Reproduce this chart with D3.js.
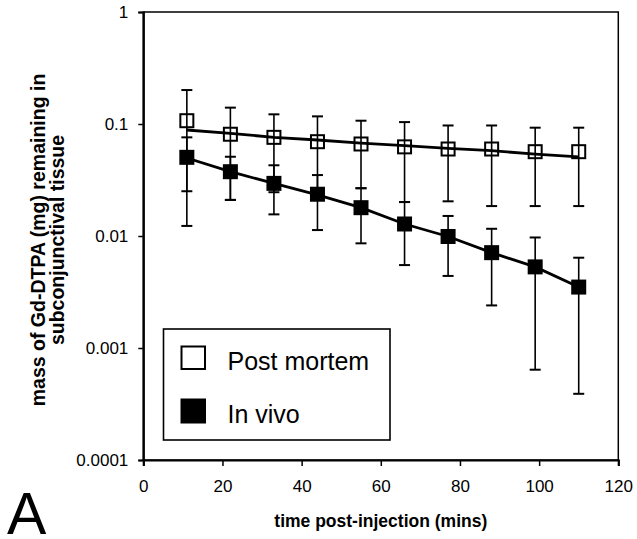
<!DOCTYPE html>
<html>
<head>
<meta charset="utf-8">
<script src="https://cdn.jsdelivr.net/npm/d3@7"></script>
<style>
  body { margin: 0; background: #fff; }
  text { font-family: Arial, "Liberation Sans", sans-serif; fill: #000; }
</style>
</head>
<body>
<div id="chart"></div>
<script>
// time points (mins)
const times = [11, 22, 33, 44, 55, 66, 77, 88, 99, 110];

// post mortem
const pmMean  = [0.107, 0.081, 0.076, 0.0695, 0.0663, 0.0625, 0.0598, 0.0598, 0.0566, 0.0566];
const pmUpper = [0.201, 0.14, 0.122, 0.117, 0.107, 0.104, 0.097, 0.097, 0.0927, 0.0927];
const pmLower = [0.0123, 0.021, 0.0246, 0.022, 0.0267, 0.0201, 0.0204, 0.0185, 0.0185, 0.0185];
const pmTrend = [0.0884, 0.0826, 0.076, 0.072, 0.0675, 0.064, 0.0607, 0.0578, 0.0538, 0.0509];

// in vivo
const ivMean  = [0.0504, 0.0375, 0.0295, 0.0236, 0.0179, 0.0128, 0.0099, 0.0071, 0.0053, 0.0035];
const ivUpper = [0.076, 0.051, 0.0428, 0.035, 0.0267, 0.0201, 0.0151, 0.0116, 0.0097, 0.0064];
const ivLower = [0.0251, 0.021, 0.0156, 0.0113, 0.0086, 0.0055, 0.0044, 0.0024, 0.00064, 0.00039];
const ivTrend = [0.0497, 0.0375, 0.0295, 0.0233, 0.0179, 0.0128, 0.0099, 0.0071, 0.0053, 0.0035];

const xTicks = [0, 20, 40, 60, 80, 100, 120];
const yTicks = [1, 0.1, 0.01, 0.001, 0.0001];
const yTickLabels = ["1", "0.1", "0.01", "0.001", "0.0001"];

const width = 637, height = 539;
const margin = { left: 143.3, right: 18.7, top: 12, bottom: 79 };

const svg = d3.select("#chart").append("svg")
    .attr("width", width)
    .attr("height", height);

const x = d3.scaleLinear().domain([0, 120]).range([margin.left, width - margin.right]);
const y = d3.scaleLog().domain([0.0001, 1]).range([height - margin.bottom, margin.top]);

// plot frame (top/right)
svg.append("rect")
    .attr("x", x(0)).attr("y", y(1))
    .attr("width", x(120) - x(0)).attr("height", y(0.0001) - y(1))
    .attr("fill", "none").attr("stroke", "#000").attr("stroke-width", 1.5);

// axes
const xAxis = svg.append("g")
    .attr("transform", `translate(0,${y(0.0001)})`)
    .call(d3.axisBottom(x).tickValues(xTicks).tickSize(6).tickPadding(10));
const yAxis = svg.append("g")
    .attr("transform", `translate(${x(0)},0)`)
    .call(d3.axisLeft(y).tickValues(yTicks).tickFormat((d, i) => yTickLabels[i]).tickSize(5).tickPadding(10));

[xAxis, yAxis].forEach(g => {
    g.select(".domain").attr("stroke-width", 2.2);
    g.selectAll(".tick line").attr("stroke-width", 1.5);
    g.selectAll(".tick text").style("font-size", "17px").attr("font-family", null);
});
xAxis.selectAll(".tick text").attr("dy", "0.95em");

// error bars
function errorBars(lower, upper) {
    const g = svg.append("g").attr("stroke", "#000");
    times.forEach((t, i) => {
        g.append("line")
            .attr("x1", x(t)).attr("x2", x(t))
            .attr("y1", y(upper[i])).attr("y2", y(lower[i]))
            .attr("stroke-width", 1.6);
        [upper[i], lower[i]].forEach(v => {
            g.append("line")
                .attr("x1", x(t) - 5.5).attr("x2", x(t) + 5.5)
                .attr("y1", y(v)).attr("y2", y(v))
                .attr("stroke-width", 2);
        });
    });
}
errorBars(pmLower, pmUpper);
errorBars(ivLower, ivUpper);

// fitted lines
const line = d3.line().x((d, i) => x(times[i])).y(d => y(d));
[pmTrend, ivTrend].forEach(tr => {
    svg.append("path")
        .attr("d", line(tr))
        .attr("fill", "none")
        .attr("stroke", "#000")
        .attr("stroke-width", 2.8);
});

// markers
const sq = 13;
svg.append("g").selectAll("rect")
    .data(pmMean)
    .join("rect")
    .attr("x", (d, i) => x(times[i]) - sq / 2)
    .attr("y", d => y(d) - sq / 2)
    .attr("width", sq).attr("height", sq)
    .attr("fill", "none")
    .attr("stroke", "#000")
    .attr("stroke-width", 2);

svg.append("g").selectAll("rect")
    .data(ivMean)
    .join("rect")
    .attr("x", (d, i) => x(times[i]) - sq / 2 - 1)
    .attr("y", d => y(d) - sq / 2 - 1)
    .attr("width", sq + 2).attr("height", sq + 2)
    .attr("fill", "#000");

// legend
const lg = svg.append("g");
lg.append("rect")
    .attr("x", 163.5).attr("y", 329)
    .attr("width", 226.5).attr("height", 111)
    .attr("fill", "#fff").attr("stroke", "#000").attr("stroke-width", 1.6);
lg.append("rect")
    .attr("x", 181.5).attr("y", 346.5).attr("width", 23.5).attr("height", 22.5)
    .attr("fill", "#fff").attr("stroke", "#000").attr("stroke-width", 2);
lg.append("rect")
    .attr("x", 180.5).attr("y", 398.5).attr("width", 25.5).attr("height", 25)
    .attr("fill", "#000");
lg.append("text").attr("x", 227.5).attr("y", 369.5)
    .style("font-size", "25px").text("Post mortem");
lg.append("text").attr("x", 227.5).attr("y", 422.5)
    .style("font-size", "25px").text("In vivo");

// axis titles
svg.append("text")
    .attr("x", x(60)).attr("y", 527)
    .attr("text-anchor", "middle")
    .style("font-size", "17.5px").style("font-weight", "bold")
    .text("time post-injection (mins)");

const yt = svg.append("text")
    .attr("transform", `translate(45,240) rotate(-90)`)
    .attr("text-anchor", "middle")
    .style("font-size", "19.5px").style("font-weight", "bold");
yt.append("tspan").attr("x", 0).attr("y", 0).text("mass of Gd-DTPA (mg) remaining in");
yt.append("tspan").attr("x", 0).attr("y", 19).text("subconjunctival tissue");

// panel letter
svg.append("text")
    .attr("x", 7).attr("y", 534)
    .style("font-size", "59px")
    .text("A");
</script>
</body>
</html>
